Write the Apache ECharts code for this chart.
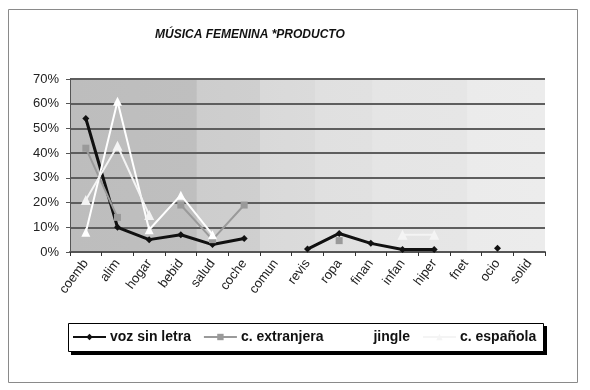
<!DOCTYPE html>
<html>
<head>
<meta charset="utf-8">
<script src="https://cdn.jsdelivr.net/npm/echarts@6/dist/echarts.min.js"></script>
<style>
html,body{margin:0;padding:0;background:#fff;}
#c{width:590px;height:390px;}
</style>
</head>
<body>
<div id="c"></div>
<script>
const titleText = 'MÚSICA FEMENINA *PRODUCTO';
const categories = ['coemb','alim','hogar','bebid','salud','coche','comun','revis','ropa','finan','infan','hiper','fnet','ocio','solid'];
const yTicks = [0,10,20,30,40,50,60,70];
const seriesNames = ['voz sin letra','c. extranjera','jingle','c. española'];
const vozSinLetra = [54,10,5,7,3,5.5,null,1.2,7.5,3.5,1,1,null,1.5,null];
const cExtranjera = [42,14,null,19,5,19,null,null,4.6,null,null,null,null,null,null];
const jingle = [8,61,9,23,7,null,null,null,null,null,null,null,null,null,null];
const cEspanola = [21,43,15,null,null,null,null,null,null,null,7,7,null,null,null];

const chart = echarts.init(document.getElementById('c'), null, {renderer:'canvas'});
const font = 'Arial, "Liberation Sans", sans-serif';
chart.setOption({
  animation:false,
  backgroundColor:'#fff',
  graphic:[
    {type:'rect', shape:{x:8.5,y:9.5,width:569,height:373},
      style:{fill:'none',stroke:'#8a8a8a',lineWidth:1}, z:-10},
    {type:'rect', shape:{x:71,y:326,width:476,height:29},
      style:{fill:'#000'}, z:-5},
    {type:'rect', shape:{x:68.5,y:323.5,width:475,height:28},
      style:{fill:'#fff',stroke:'#000',lineWidth:1}, z:-4}
  ],
  title:{
    text:titleText, left:150, top:24,
    textStyle:{fontFamily:font,fontSize:12,fontWeight:'bold',fontStyle:'italic',color:'#111'}
  },
  grid:{
    left:70, right:45, top:79, bottom:138, show:true, borderWidth:0,
    backgroundColor:{type:'linear',x:0,y:0,x2:1,y2:0,colorStops:[
      {offset:0,color:'#bdbdbd'},{offset:0.266,color:'#bfbfbf'},
      {offset:0.267,color:'#cdcdcd'},{offset:0.4,color:'#cfcfcf'},
      {offset:0.401,color:'#d9d9d9'},{offset:0.515,color:'#dbdbdb'},
      {offset:0.516,color:'#e0e0e0'},{offset:0.636,color:'#e1e1e1'},
      {offset:0.637,color:'#e5e5e5'},{offset:0.836,color:'#e6e6e6'},
      {offset:0.837,color:'#ebebeb'},{offset:1,color:'#ececec'}
    ]}
  },
  legend:{
    data:seriesNames, left:72, top:330, orient:'horizontal',
    padding:0, itemGap:12, itemWidth:33, itemHeight:8,
    textStyle:{fontFamily:font,fontSize:14,fontWeight:'bold',color:'#111',padding:[0,0,0,-1]}
  },
  xAxis:{
    type:'category', data:categories, boundaryGap:true,
    axisLine:{lineStyle:{color:'#555',width:2}},
    axisTick:{show:true,length:4,lineStyle:{color:'#333'}},
    axisLabel:{rotate:53,margin:9,fontFamily:font,fontSize:13,color:'#222',interval:0}
  },
  yAxis:{
    type:'value', min:0, max:70, interval:10,
    axisLine:{show:true,lineStyle:{color:'#555',width:1}},
    axisTick:{show:true,length:4,lineStyle:{color:'#555'}},
    axisLabel:{formatter:'{value}%',fontFamily:font,fontSize:13,color:'#222',margin:11},
    splitLine:{show:true,lineStyle:{color:'#5e5e5e',width:2}}
  },
  series:[
    {name:seriesNames[0],type:'line',data:vozSinLetra,symbol:'diamond',symbolSize:7,showSymbol:true,
      lineStyle:{color:'#111',width:3},itemStyle:{color:'#111'},connectNulls:false},
    {name:seriesNames[1],type:'line',data:cExtranjera,symbol:'rect',symbolSize:7,showSymbol:true,
      lineStyle:{color:'#9a9a9a',width:2},itemStyle:{color:'#9a9a9a'},connectNulls:false},
    {name:seriesNames[2],type:'line',data:jingle,symbol:'triangle',symbolSize:9,showSymbol:true,
      lineStyle:{color:'#ffffff',width:2},itemStyle:{color:'#ffffff'},connectNulls:false},
    {name:seriesNames[3],type:'line',data:cEspanola,symbol:'triangle',symbolSize:10,showSymbol:true,
      lineStyle:{color:'#f4f4f4',width:2},itemStyle:{color:'#f4f4f4'},connectNulls:false}
  ]
});
</script>
</body>
</html>
